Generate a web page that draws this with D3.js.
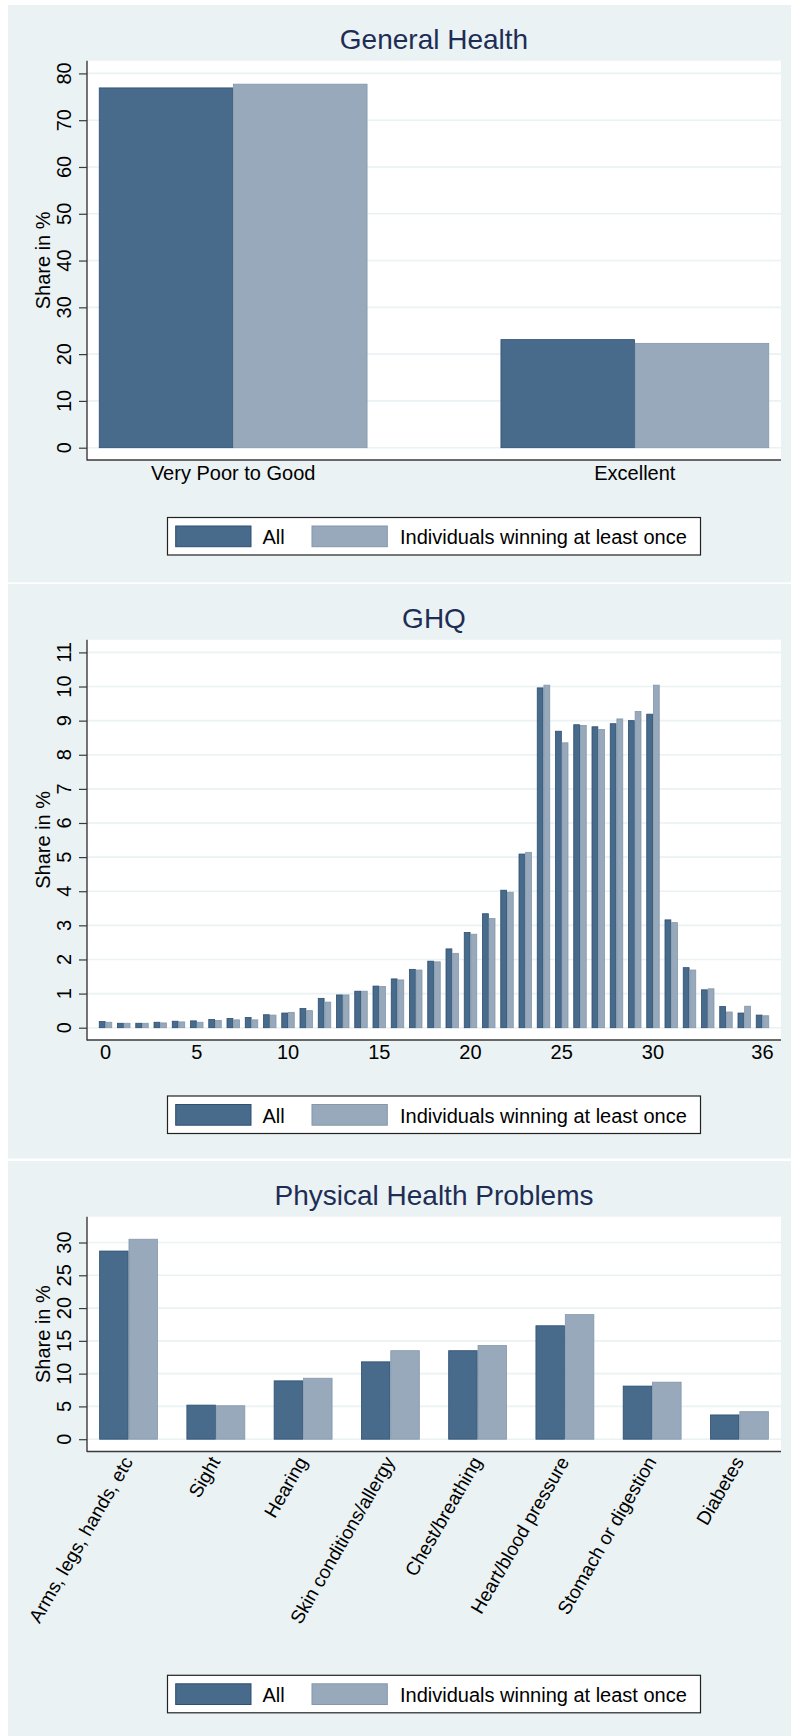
<!DOCTYPE html>
<html>
<head>
<meta charset="utf-8">
<script src="https://cdn.jsdelivr.net/npm/d3@7"></script>
<style>
  html, body { margin: 0; padding: 0; background: #ffffff; }
  svg { display: block; font-family: "Liberation Sans", Arial, Helvetica, sans-serif; }
</style>
</head>
<body>
<svg id="chart" width="791" height="1736"></svg>
<script>
// ---------------- DATA ----------------
const seriesNames = ["All", "Individuals winning at least once"];

// Panel 1: General Health
const ghCategories = ["Very Poor to Good", "Excellent"];
const ghAll = [76.9, 23.1];
const ghWinners = [77.7, 22.3];
const ghYTicks = [0, 10, 20, 30, 40, 50, 60, 70, 80];

// Panel 2: GHQ
const ghqCategories = [0,1,2,3,4,5,6,7,8,9,10,11,12,13,14,15,16,17,18,19,20,21,22,23,24,25,26,27,28,29,30,31,32,33,34,35,36];
const ghqAll = [0.18,0.13,0.13,0.16,0.19,0.20,0.24,0.27,0.30,0.38,0.43,0.56,0.86,0.96,1.07,1.22,1.43,1.71,1.95,2.31,2.79,3.34,4.03,5.09,9.96,8.69,8.88,8.82,8.91,9.00,9.19,3.16,1.76,1.11,0.62,0.43,0.37];
const ghqWinners = [0.16,0.13,0.13,0.14,0.17,0.16,0.21,0.23,0.23,0.37,0.45,0.50,0.75,0.96,1.07,1.21,1.40,1.69,1.93,2.18,2.74,3.20,3.97,5.14,10.04,8.35,8.86,8.74,9.05,9.27,10.04,3.08,1.69,1.14,0.46,0.63,0.35];
const ghqXLabels = [0, 5, 10, 15, 20, 25, 30, 36];
const ghqYTicks = [0,1,2,3,4,5,6,7,8,9,10,11];

// Panel 3: Physical Health Problems
const phpCategories = ["Arms, legs, hands, etc", "Sight", "Hearing", "Skin conditions/allergy",
  "Chest/breathing", "Heart/blood pressure", "Stomach or digestion", "Diabetes"];
const phpAll = [28.7, 5.2, 8.9, 11.8, 13.5, 17.3, 8.1, 3.7];
const phpWinners = [30.5, 5.1, 9.3, 13.5, 14.3, 19.0, 8.7, 4.2];
const phpYTicks = [0, 5, 10, 15, 20, 25, 30];

// ---------------- STYLE ----------------
const BG = "#eaf2f3";
const GRID = "#eaf2f3";
const DARK = "#486a8b", DARK_STROKE = "#2c4f72";
const LIGHT = "#97a9ba", LIGHT_STROKE = "#8398ac";
const TITLE_COLOR = "#1e2d55";
const AXIS_COLOR = "#3a3a3a";

const svg = d3.select("#chart");
const plotLeft = 87, plotRight = 781;
const cx = (plotLeft + plotRight) / 2;

function drawPanel(cfg) {
  const T = cfg.top;
  const g = svg.append("g");
  // panel background
  g.append("rect").attr("x", 8).attr("y", T).attr("width", 791 - 8).attr("height", cfg.bottom - T).attr("fill", BG);
  // title
  g.append("text").attr("x", cx).attr("y", T + 44).attr("text-anchor", "middle")
    .attr("font-size", 28).attr("fill", TITLE_COLOR).text(cfg.title);

  const pTop = T + 55.7, pBot = T + cfg.plotBottomRel;
  g.append("rect").attr("x", plotLeft).attr("y", pTop).attr("width", plotRight - plotLeft)
    .attr("height", pBot - pTop).attr("fill", "#ffffff");

  const y = d3.scaleLinear().domain([0, cfg.yMax]).range([pBot - 12.3, pTop + 12.7]);
  const x0 = d3.scaleBand().domain(cfg.categories).range([plotLeft, plotRight])
    .paddingInner(cfg.pi).paddingOuter(cfg.po);
  const x1 = d3.scaleBand().domain([0, 1]).range([0, x0.bandwidth()]);

  // gridlines
  g.append("g").selectAll("line").data(cfg.yTicks).join("line")
    .attr("x1", plotLeft).attr("x2", plotRight)
    .attr("y1", d => y(d)).attr("y2", d => y(d))
    .attr("stroke", GRID).attr("stroke-width", 1.6);

  // bars
  const rows = cfg.categories.map((c, i) => ({ c, v: [cfg.all[i], cfg.win[i]] }));
  const grp = g.append("g").selectAll("g").data(rows).join("g")
    .attr("transform", d => `translate(${x0(d.c)},0)`);
  grp.selectAll("rect").data(d => d.v.map((v, j) => ({ v, j }))).join("rect")
    .attr("x", d => x1(d.j) + 0.4)
    .attr("width", x1.bandwidth() - 0.8)
    .attr("y", d => y(d.v))
    .attr("height", d => y(0) - y(d.v))
    .attr("fill", d => d.j === 0 ? DARK : LIGHT)
    .attr("stroke", d => d.j === 0 ? DARK_STROKE : LIGHT_STROKE)
    .attr("stroke-width", 0.8);

  // y axis
  const yAxis = d3.axisLeft(y).tickValues(cfg.yTicks).tickSize(8).tickFormat("");
  const ya = g.append("g").attr("transform", `translate(${plotLeft},0)`).call(yAxis);
  ya.select(".domain").remove();
  ya.selectAll(".tick line").attr("stroke", AXIS_COLOR).attr("stroke-width", 1.2);
  g.append("line").attr("x1", plotLeft).attr("x2", plotLeft).attr("y1", pTop).attr("y2", pBot + 0.6)
    .attr("stroke", AXIS_COLOR).attr("stroke-width", 1.4);
  // y tick labels (rotated)
  g.append("g").selectAll("text").data(cfg.yTicks).join("text")
    .attr("transform", d => `translate(71,${y(d)}) rotate(-90)`)
    .attr("text-anchor", "middle").attr("font-size", 20).attr("fill", "#000")
    .text(d => d);
  // y axis title
  g.append("text").attr("transform", `translate(50,${(pTop + pBot) / 2}) rotate(-90)`)
    .attr("text-anchor", "middle").attr("font-size", 20).attr("fill", "#000").text("Share in %");

  // x axis line
  g.append("line").attr("x1", plotLeft).attr("x2", plotRight).attr("y1", pBot).attr("y2", pBot)
    .attr("stroke", AXIS_COLOR).attr("stroke-width", 1.4);

  // x labels
  if (cfg.xMode === "plain") {
    g.append("g").selectAll("text").data(cfg.xLabels).join("text")
      .attr("x", d => x0(d) + x0.bandwidth() / 2).attr("y", pBot + cfg.xLabelDy)
      .attr("text-anchor", "middle").attr("font-size", 20).attr("fill", "#000").text(d => d);
  } else {
    g.append("g").selectAll("text").data(cfg.xLabels).join("text")
      .attr("transform", d => `translate(${x0(d) + x0.bandwidth() / 2 + 5},${pBot + 10}) rotate(-60)`)
      .attr("text-anchor", "end").attr("font-size", 19).attr("fill", "#000").text(d => d);
  }

  // legend
  const lx = cx - 266.5, ly = T + cfg.legendRel, lw = 533, lh = 37.5;
  const lg = g.append("g");
  lg.append("rect").attr("x", lx).attr("y", ly).attr("width", lw).attr("height", lh)
    .attr("fill", "#fff").attr("stroke", "#222").attr("stroke-width", 1.2);
  const keyX = [lx + 8.2, lx + 144.5];
  const txtX = [lx + 95, lx + 232.5];
  seriesNames.forEach((name, j) => {
    lg.append("rect").attr("x", keyX[j]).attr("y", ly + 8.5).attr("width", 75.3).attr("height", 20.7)
      .attr("fill", j === 0 ? DARK : LIGHT).attr("stroke", j === 0 ? DARK_STROKE : LIGHT_STROKE).attr("stroke-width", 1);
    lg.append("text").attr("x", txtX[j]).attr("y", ly + 26.6).attr("font-size", 20).attr("fill", "#000").text(name);
  });
}

drawPanel({
  top: 5, bottom: 582.3, title: "General Health",
  categories: ghCategories, all: ghAll, win: ghWinners,
  yMax: 80, yTicks: ghYTicks, pi: 0.3313, po: 0.0295,
  plotBottomRel: 455, xMode: "plain", xLabels: ghCategories, xLabelDy: 19.7, legendRel: 512.5
});

drawPanel({
  top: 584, bottom: 1158.5, title: "GHQ",
  categories: ghqCategories, all: ghqAll, win: ghqWinners,
  yMax: 11, yTicks: ghqYTicks, pi: 0.271, po: 0.65,
  plotBottomRel: 456, xMode: "plain", xLabels: ghqXLabels, xLabelDy: 18.5, legendRel: 512
});

drawPanel({
  top: 1161, bottom: 1736, title: "Physical Health Problems",
  categories: phpCategories, all: phpAll, win: phpWinners,
  yMax: 32, yTicks: phpYTicks, pi: 0.327, po: 0.14,
  plotBottomRel: 290.5, xMode: "rotated", xLabels: phpCategories, legendRel: 514.3
});
</script>
</body>
</html>
